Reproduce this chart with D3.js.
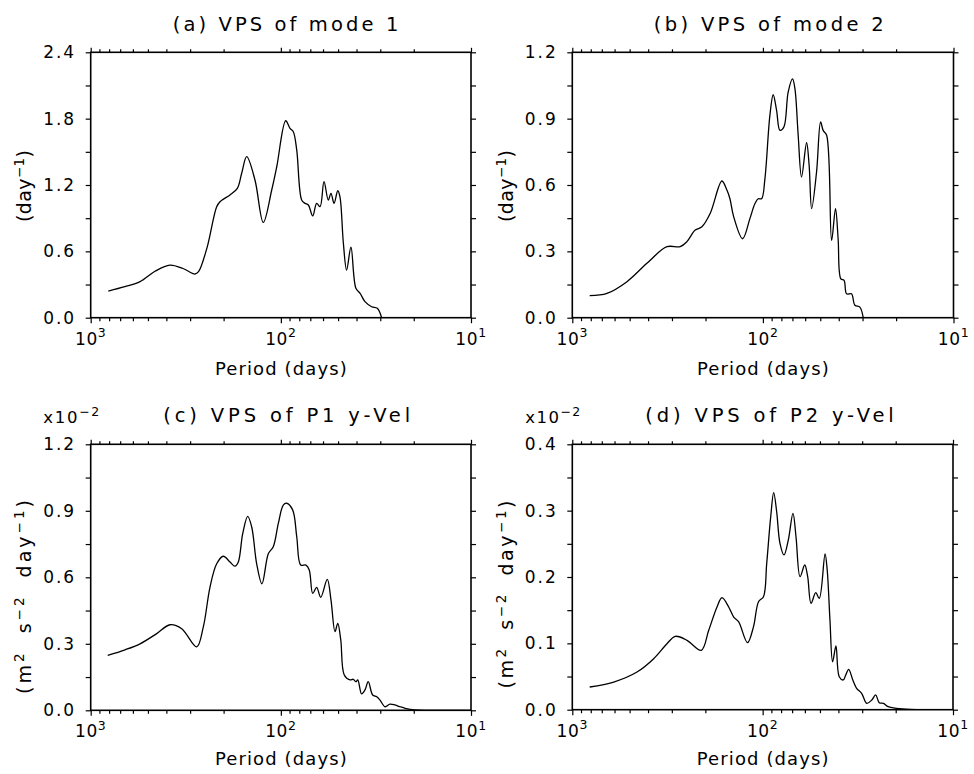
<!DOCTYPE html>
<html><head><meta charset="utf-8">
<script src="https://cdn.jsdelivr.net/npm/d3@7"></script>
<style>
body{margin:0;background:#fff}
svg{display:block}
text{font-family:"DejaVu Sans",sans-serif;fill:#000}
</style>
</head><body>
<svg id="c" width="974" height="774"></svg>
<script>
// ---------------- data ----------------
const periodA = [808, 661, 550, 459, 383, 327, 283, 271, 245, 217.5, 208.9, 185.1, 169.4, 160.7, 151.2, 136.8, 123.7, 111.7, 105.1, 94.3, 89.5, 86.0, 82.5, 77.7, 74.6, 71.7, 68.0, 64.8, 62.2, 59.3, 56.3, 54.5, 52.5, 50.2, 48.9, 46.9, 45.1, 42.8, 40.3, 38.3, 36.1, 33.3, 31.1, 29.5];
const valueA  = [0.241, 0.28, 0.326, 0.42, 0.476, 0.445, 0.395, 0.416, 0.627, 1.004, 1.049, 1.11, 1.17, 1.306, 1.456, 1.245, 0.862, 1.155, 1.365, 1.781, 1.712, 1.682, 1.516, 1.064, 1.034, 1.019, 0.92, 1.034, 1.004, 1.23, 1.064, 1.125, 1.034, 1.148, 1.094, 0.673, 0.431, 0.637, 0.266, 0.221, 0.145, 0.099, 0.085, 0];

const periodB = [810.5, 657.7, 516.7, 405.9, 318.7, 271.5, 250.3, 226.5, 208.9, 188.9, 164.1, 154.5, 148.9, 142.4, 127.8, 117.0, 110.2, 105.8, 101.6, 97.6, 91.9, 88.3, 84.8, 81.4, 77.6, 73.7, 69.9, 67.9, 65.3, 62.7, 59.0, 57.2, 55.5, 52.3, 49.8, 48.3, 46.3, 43.6, 41.6, 40.3, 39.0, 37.5, 36.4, 34.3, 32.9, 31.0, 29.8];
const valueB  = [0.0995, 0.110, 0.163, 0.246, 0.321, 0.321, 0.344, 0.396, 0.411, 0.472, 0.618, 0.577, 0.538, 0.457, 0.357, 0.448, 0.515, 0.538, 0.538, 0.628, 0.915, 1.008, 0.938, 0.847, 0.862, 1.020, 1.080, 1.035, 0.825, 0.636, 0.791, 0.689, 0.493, 0.659, 0.885, 0.847, 0.825, 0.350, 0.493, 0.357, 0.176, 0.169, 0.108, 0.108, 0.056, 0.048, 0.003];

const periodC = [814, 659, 550, 449.6, 382.8, 332.2, 277.0, 255.7, 235.8, 217.5, 200.8, 185.1, 174.2, 167.4, 158.7, 149.4, 142.3, 134.0, 125.7, 116.4, 109.6, 103.1, 97.1, 93.1, 86.6, 82.5, 78.6, 73.8, 70.9, 68.0, 64.8, 61.7, 57.0, 54.5, 51.9, 50.2, 48.4, 46.4, 43.3, 41.6, 40.3, 39.4, 37.6, 36.1, 34.7, 32.9, 31.3, 30.1, 28.3, 26.7, 25.1, 23.6, 22.2, 20.9, 18.5, 10];
const valueC  = [0.248, 0.273, 0.300, 0.346, 0.386, 0.368, 0.286, 0.376, 0.556, 0.661, 0.695, 0.669, 0.650, 0.669, 0.797, 0.875, 0.827, 0.661, 0.571, 0.706, 0.738, 0.843, 0.926, 0.934, 0.903, 0.783, 0.655, 0.655, 0.633, 0.528, 0.555, 0.510, 0.591, 0.498, 0.355, 0.392, 0.317, 0.159, 0.137, 0.140, 0.129, 0.137, 0.074, 0.092, 0.129, 0.069, 0.061, 0.046, 0.016, 0.028, 0.024, 0.016, 0.009, 0.0045, 0.001, 0];

const periodD = [810.2, 606, 457.2, 373.6, 318.1, 287.7, 249.7, 210.1, 192.0, 173.7, 163.6, 150.8, 141.9, 133.6, 120.1, 111.7, 105.1, 99.0, 95.2, 90.7, 87.5, 84.4, 81.1, 77.2, 73.3, 69.3, 66.8, 63.6, 60.1, 58.0, 55.7, 52.6, 50.4, 47.0, 45.8, 44.3, 42.9, 41.2, 39.6, 37.7, 36.6, 35.3, 33.6, 32.1, 30.2, 28.4, 26.7, 25.5, 24.4, 23.2, 21.9, 19.8, 16.8, 10];
const valueD  = [0.0342, 0.0417, 0.0568, 0.0769, 0.0995, 0.1106, 0.1046, 0.0895, 0.1197, 0.1548, 0.1688, 0.1548, 0.1397, 0.1322, 0.1010, 0.1251, 0.1628, 0.1703, 0.2206, 0.2909, 0.3271, 0.2984, 0.2508, 0.2332, 0.2558, 0.2960, 0.2607, 0.2005, 0.2181, 0.2005, 0.1604, 0.1763, 0.1679, 0.2347, 0.2106, 0.1352, 0.0723, 0.0960, 0.0497, 0.0448, 0.0523, 0.0609, 0.0448, 0.0323, 0.0247, 0.0096, 0.0146, 0.0222, 0.0106, 0.0096, 0.0045, 0.0021, 0.0006, 0];

const yTicksA = [0, 0.6, 1.2, 1.8, 2.4];
const yMinorA = [0.3, 0.9, 1.5, 2.1];
const yTicksB = [0, 0.3, 0.6, 0.9, 1.2];
const yMinorB = [0.15, 0.45, 0.75, 1.05];
const yTicksC = [0, 0.3, 0.6, 0.9, 1.2];
const yMinorC = [0.15, 0.45, 0.75, 1.05];
const yTicksD = [0, 0.1, 0.2, 0.3, 0.4];
const yMinorD = [0.05, 0.15, 0.25, 0.35];

const xMajor = [1000, 100, 10];
const xMinor = [900, 800, 700, 600, 500, 400, 300, 200, 90, 80, 70, 60, 50, 40, 30, 20];

const titles = ["(a) VPS of mode 1", "(b) VPS of mode 2", "(c) VPS of P1 y-Vel", "(d) VPS of P2 y-Vel"];
const xTitle = "Period (days)";
// unit labels: [normal text, superscript] pieces
const yLabelDay = [["(day",""],["","−1"],[")",""]];
const yLabelVel = [["(m",""],["","2"],[" s",""],["","−2"],[" day",""],["","−1"],[")",""]];
const scaleNote = [["x10",""],["","−2"]];

// ---------------- layout ----------------
const panels = [
  {period: periodA, value: valueA, yTicks: yTicksA, yMinor: yMinorA, title: titles[0], ylab: yLabelDay, note: null,
   l: 90.7, r: 471, t: 52.3, b: 317.7, tx: 285.5, ty: 31, tw: 225.6, xly: 375, ylx: 31, yly: 186, ylw: 72},
  {period: periodB, value: valueB, yTicks: yTicksB, yMinor: yMinorB, title: titles[1], ylab: yLabelDay, note: null,
   l: 572.3, r: 953.5, t: 52.3, b: 317.7, tx: 768.7, ty: 31, tw: 230, xly: 375, ylx: 513, yly: 186, ylw: 72},
  {period: periodC, value: valueC, yTicks: yTicksC, yMinor: yMinorC, title: titles[2], ylab: yLabelVel, note: scaleNote,
   l: 90.7, r: 471, t: 444.3, b: 710.3, tx: 286.7, ty: 422, tw: 246.7, xly: 765, ylx: 31, yly: 597, ylw: 194, nx: 43.3, ny: 423, nw: 56},
  {period: periodD, value: valueD, yTicks: yTicksD, yMinor: yMinorD, title: titles[3], ylab: yLabelVel, note: scaleNote,
   l: 572.3, r: 953, t: 444.3, b: 709.7, tx: 769.5, ty: 422, tw: 248.4, xly: 765, ylx: 513, yly: 594.5, ylw: 188, nx: 525.3, ny: 423, nw: 55}
];

const svg = d3.select("#c");
svg.append("rect").attr("width", 974).attr("height", 774).attr("fill", "#fff");

function richText(sel, parts, supSize, supDy) {
  let raised = false;
  parts.forEach(([norm, sup]) => {
    if (norm) {
      sel.append("tspan").attr("dy", raised ? supDy : 0).text(norm);
      raised = false;
    }
    if (sup) {
      sel.append("tspan").attr("font-size", supSize).attr("dy", raised ? 0 : -supDy).text(sup);
      raised = true;
    }
  });
}

const fmt = d3.format(".1f");
const LS = 2;

panels.forEach((p, i) => {
  const x = d3.scaleLog().domain([1000, 10]).range([p.l, p.r]);
  const yMax = p.yTicks[p.yTicks.length - 1];
  const y = d3.scaleLinear().domain([0, yMax]).range([p.b, p.t]);
  const g = svg.append("g");

  const allY = p.yTicks.concat(p.yMinor);
  const isMajorY = d => p.yTicks.some(v => Math.abs(v - d) < 1e-9);
  const allX = xMajor.concat(xMinor);

  const gl = g.append("g").attr("transform", `translate(${p.l},0)`)
    .call(d3.axisLeft(y).tickValues(allY).tickSize(5).tickSizeOuter(0).tickPadding(16.5 - 5 - LS)
      .tickFormat(d => isMajorY(d) ? fmt(d) : ""));
  const gr = g.append("g").attr("transform", `translate(${p.r},0)`)
    .call(d3.axisRight(y).tickValues(allY).tickSize(5).tickSizeOuter(0).tickFormat(""));
  const gb = g.append("g").attr("transform", `translate(0,${p.b})`)
    .call(d3.axisBottom(x).tickValues(allX).tickSize(5).tickSizeOuter(0).tickFormat(""));
  gb.selectAll(".tick line").attr("y2", d => xMajor.includes(d) ? 5.5 : 3.5);
  const gt = g.append("g").attr("transform", `translate(0,${p.t})`)
    .call(d3.axisTop(x).tickValues(allX).tickSize(5).tickSizeOuter(0).tickFormat(""));
  gt.selectAll(".tick line").attr("y2", d => xMajor.includes(d) ? -4.5 : -3);

  [gl, gr, gb, gt].forEach(a => {
    a.select(".domain").remove();
    a.attr("font-family", null).attr("font-size", null);
    a.selectAll(".tick line").attr("stroke", "#000").attr("stroke-width", 1.2);
  });
  gl.selectAll(".tick text").attr("font-size", 17).attr("letter-spacing", LS).attr("fill", "#000");

  xMajor.forEach(v => {
    const t = g.append("text").attr("x", x(v)).attr("y", p.b + 27)
      .attr("text-anchor", "middle").attr("font-size", 17).attr("letter-spacing", 0.6);
    t.append("tspan").text("10");
    t.append("tspan").attr("font-size", 12.5).attr("dy", -7.5).text(String(Math.round(Math.log10(v))));
  });

  // clip for curve
  const cid = "clip" + i;
  svg.append("clipPath").attr("id", cid).append("rect")
    .attr("x", p.l).attr("y", p.t - 2).attr("width", p.r - p.l).attr("height", p.b - p.t + 2);

  const pts = p.period.map((d, j) => [d, p.value[j]]);
  g.append("path").datum(pts)
    .attr("clip-path", `url(#${cid})`)
    .attr("d", d3.line().x(d => x(d[0])).y(d => y(d[1])).curve(d3.curveCatmullRom.alpha(0.5)))
    .attr("fill", "none").attr("stroke", "#000").attr("stroke-width", 1.3).attr("stroke-linejoin", "round");

  g.append("rect").attr("x", p.l).attr("y", p.t).attr("width", p.r - p.l).attr("height", p.b - p.t)
    .attr("fill", "none").attr("stroke", "#000").attr("stroke-width", 1.6);

  g.append("text").attr("x", p.tx).attr("y", p.ty).attr("text-anchor", "middle")
    .attr("font-size", 19.5).attr("textLength", p.tw).attr("lengthAdjust", "spacing").text(p.title);

  g.append("text").attr("x", (p.l + p.r) / 2).attr("y", p.xly).attr("text-anchor", "middle")
    .attr("font-size", 18).attr("textLength", 131.7).attr("lengthAdjust", "spacing").text(xTitle);

  const yl = g.append("text").attr("transform", `translate(${p.ylx},${p.yly}) rotate(-90)`)
    .attr("text-anchor", "middle").attr("font-size", 19)
    .attr("word-spacing", 8)
    .attr("textLength", p.ylw).attr("lengthAdjust", "spacing");
  richText(yl, p.ylab, 13.5, 7.5);

  if (p.note) {
    const n = g.append("text").attr("x", p.nx).attr("y", p.ny).attr("font-size", 16.5)
      .attr("textLength", p.nw).attr("lengthAdjust", "spacing");
    richText(n, p.note, 12.5, 7.5);
  }
});
</script>
</body></html>
